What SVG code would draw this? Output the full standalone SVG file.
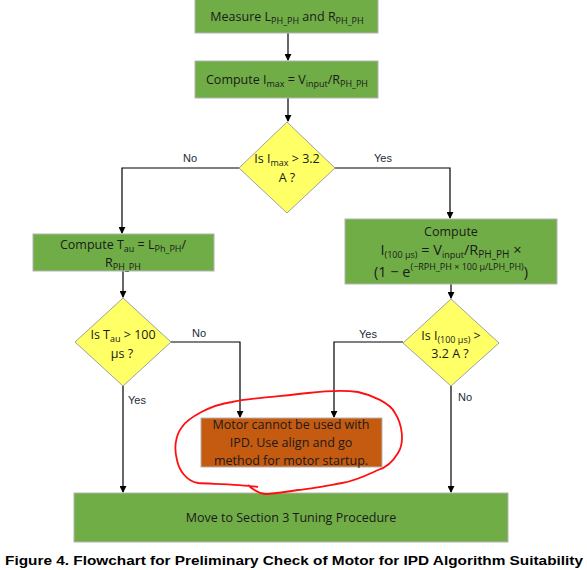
<svg xmlns="http://www.w3.org/2000/svg" width="587" height="570" viewBox="0 0 587 570">
<style>
.box{fill:#70AD47;stroke:#B4B4B4;stroke-width:1}
.dia{fill:#FFFF66;stroke:#A0A0A0;stroke-width:1}
.org{fill:#C55A11;stroke:#B4B4B4;stroke-width:1}
.t{font-family:"Open Sans","Liberation Sans",sans-serif;font-size:12.5px;fill:#1a1a1a;text-anchor:middle}
.s{font-size:9px}
.lbl{font-family:"Liberation Sans",Arial,sans-serif;font-size:11px;fill:#1a2a3a;text-anchor:middle}
.ln{fill:none;stroke:#000;stroke-width:1.2}
.cap{font-family:"Liberation Sans",Arial,sans-serif;font-size:12.5px;font-weight:bold;fill:#000}
</style>
<defs>
<marker id="ah" viewBox="0 0 8 8" refX="7" refY="4" markerWidth="7" markerHeight="7" markerUnits="userSpaceOnUse" orient="auto">
<path d="M0,0 L8,4 L0,8 z" fill="#000"/>
</marker>
</defs>
<rect width="587" height="570" fill="#fff"/>
<g id="connectors">
<line class="ln" x1="288" y1="33" x2="288" y2="60" marker-end="url(#ah)"/>
<line class="ln" x1="288" y1="98" x2="288" y2="121" marker-end="url(#ah)"/>
<polyline class="ln" points="239,168 122,168 122,233" marker-end="url(#ah)"/>
<polyline class="ln" points="335,168 450,168 450,218" marker-end="url(#ah)"/>
<line class="ln" x1="123" y1="271" x2="123" y2="297" marker-end="url(#ah)"/>
<line class="ln" x1="451" y1="284" x2="451" y2="298" marker-end="url(#ah)"/>
<polyline class="ln" points="171,342 240,342 240,417" marker-end="url(#ah)"/>
<polyline class="ln" points="403,342 334,342 334,417" marker-end="url(#ah)"/>
<line class="ln" x1="123" y1="386" x2="123" y2="492" marker-end="url(#ah)"/>
<line class="ln" x1="451" y1="386" x2="451" y2="492" marker-end="url(#ah)"/>
<text class="lbl" x="190" y="162">No</text>
<text class="lbl" x="383" y="162">Yes</text>
<text class="lbl" x="199" y="337">No</text>
<text class="lbl" x="368" y="338">Yes</text>
<text class="lbl" x="137" y="404">Yes</text>
<text class="lbl" x="465" y="401">No</text>
</g>
<g id="measure">
<rect class="box" x="195" y="-1" width="183" height="34"/>
<text class="t" x="287" y="21">Measure L<tspan class="s" dy="3">PH_PH</tspan><tspan dy="-3"> and R</tspan><tspan class="s" dy="3">PH_PH</tspan></text>
</g>
<g id="compute-imax">
<rect class="box" x="195" y="61" width="183" height="37"/>
<text class="t" x="287" y="84">Compute I<tspan class="s" dy="3">max</tspan><tspan dy="-3"> = V</tspan><tspan class="s" dy="3">input</tspan><tspan dy="-3">/R</tspan><tspan class="s" dy="3">PH_PH</tspan></text>
</g>
<g id="check-imax">
<polygon class="dia" points="287,122 335,168 287,213 239,168"/>
<text class="t" x="287" y="163">Is I<tspan class="s" dy="3">max</tspan><tspan dy="-3"> &gt; 3.2</tspan></text>
<text class="t" x="287" y="182">A ?</text>
</g>
<g id="compute-tau">
<rect class="box" x="33" y="234" width="181" height="37"/>
<text class="t" x="123" y="249">Compute T<tspan class="s" dy="3">au</tspan><tspan dy="-3"> = L</tspan><tspan class="s" dy="3">Ph_PH</tspan><tspan dy="-3">/</tspan></text>
<text class="t" x="123" y="267">R<tspan class="s" dy="3">PH_PH</tspan></text>
</g>
<g id="check-tau">
<polygon class="dia" points="123,298 171,342 123,386 75,342"/>
<text class="t" x="123" y="339">Is T<tspan class="s" dy="3">au</tspan><tspan dy="-3"> &gt; 100</tspan></text>
<text class="t" x="122" y="358">µs ?</text>
</g>
<g id="compute-i100">
<rect class="box" x="345" y="219" width="212" height="65"/>
<text class="t" x="451" y="236">Compute</text>
<text class="t" x="451" y="255" style="font-size:14.5px">I<tspan class="s" dy="3">(100 µs)</tspan><tspan dy="-3"> = V</tspan><tspan class="s" dy="3">input</tspan><tspan dy="-3">/R</tspan><tspan class="s" dy="3" style="font-size:10px">PH_PH</tspan><tspan dy="-3"> ×</tspan></text>
<text class="t" x="451" y="277" style="font-size:14.5px">(1 − e<tspan class="s" dy="-7" style="font-size:9px">(−RPH_PH × 100 µ/LPH_PH)</tspan><tspan dy="7">)</tspan></text>
</g>
<g id="check-i100">
<polygon class="dia" points="451,299 499,343 451,386 403,343"/>
<text class="t" x="451" y="340">Is  I<tspan class="s" dy="3">(100 µs)</tspan><tspan dy="-3"> &gt;</tspan></text>
<text class="t" x="450" y="358">3.2 A ?</text>
</g>
<g id="cannot-use">
<rect class="org" x="201" y="418" width="181" height="49"/>
<text class="t" x="291" y="429">Motor cannot be used with</text>
<text class="t" x="291" y="447">IPD. Use align and go</text>
<text class="t" x="291" y="465">method for motor startup.</text>
</g>
<g id="tuning">
<rect class="box" x="74" y="493" width="434" height="49"/>
<text class="t" x="291" y="522">Move to Section 3 Tuning Procedure</text>
</g>
<path d="M258,487 C240,484 210,484 198,483 C186,481 179,470 177,460 C174,449 175,436 182,427 C188,418 210,405 232,402 C250,398 285,396 308,393 C325,391 345,390 358,392 C372,395 390,403 395,413 C402,424 405,442 398,453 C392,463 385,468 378,470 C365,476 355,481 342,483 C325,486 310,489 298,490 C285,492 272,494 265,494 C258,493 252,489 248,485" fill="none" stroke="#FF1010" stroke-width="1.8"/>
<text class="cap" x="5" y="565" textLength="578" lengthAdjust="spacingAndGlyphs">Figure 4. Flowchart for Preliminary Check of Motor for IPD Algorithm Suitability</text>
</svg>
